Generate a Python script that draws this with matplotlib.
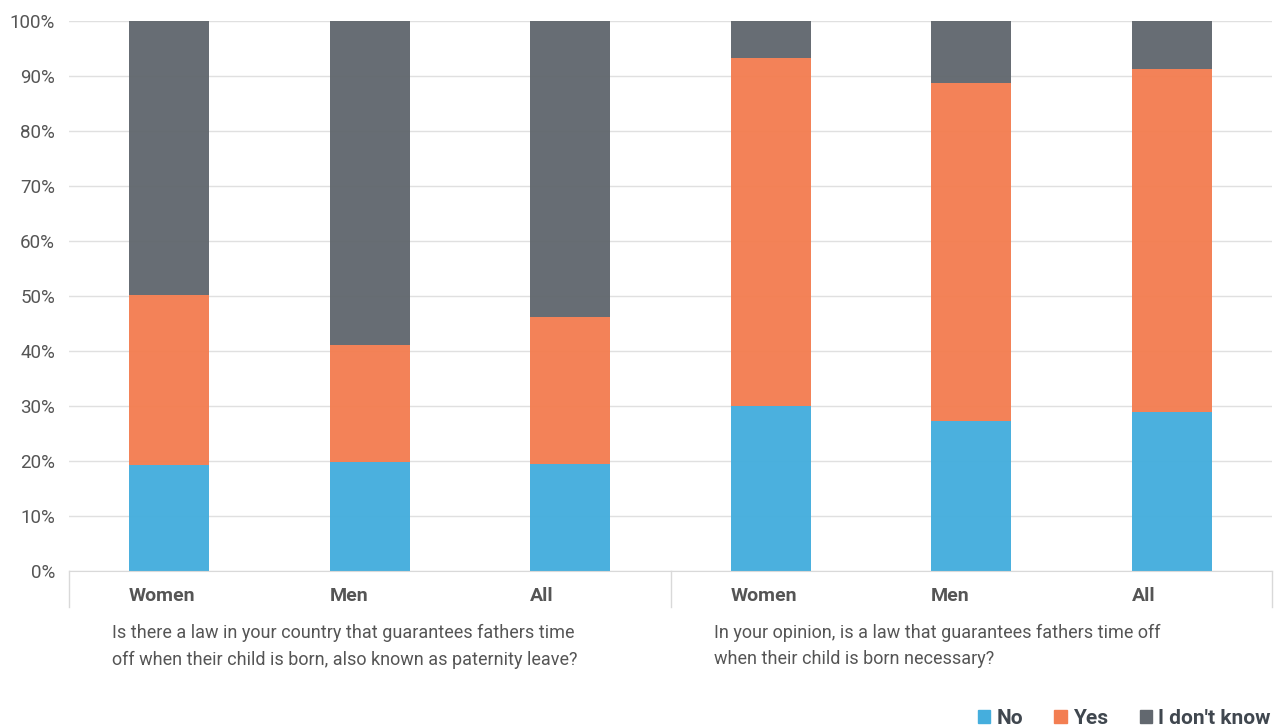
import matplotlib
matplotlib.use("Agg")
import matplotlib.pyplot as plt
from matplotlib.patches import Patch
import numpy as np

plt.rcParams['font.family'] = ['Roboto', 'DejaVu Sans']

categories = ["Women", "Men", "All", "Women", "Men", "All"]
group_labels = [
    "Is there a law in your country that guarantees fathers time\noff when their child is born, also known as paternity leave?",
    "In your opinion, is a law that guarantees fathers time off\nwhen their child is born necessary?",
]
no_vals = [19.3, 19.9, 19.4, 30.0, 27.3, 28.9]
yes_vals = [30.9, 21.2, 26.8, 63.2, 61.4, 62.3]
dk_vals = [49.8, 58.9, 53.8, 6.8, 11.3, 8.8]
series_names = ["No", "Yes", "I don't know"]
colors = ["#45aedd", "#f37e52", "#62686f"]

fig = plt.figure(figsize=(12.81, 7.26), dpi=100)
ax = fig.add_axes([69/1281, 1-571/726, (1272-69)/1281, 550/726])

x = np.arange(len(categories)) + 0.5
no = np.array(no_vals); yes = np.array(yes_vals); dk = np.array(dk_vals)
bw = 0.4
ax.bar(x, no, width=bw, color=colors[0], alpha=0.97, zorder=2)
ax.bar(x, yes, width=bw, bottom=no, color=colors[1], alpha=0.97, zorder=2)
ax.bar(x, dk, width=bw, bottom=no+yes, color=colors[2], alpha=0.97, zorder=2)

ax.set_xlim(0, 6)
ax.set_ylim(0, 100)
ax.set_yticks(np.arange(0, 101, 10))
ax.set_yticklabels([f"{v}%" for v in range(0, 101, 10)], fontsize=13.5, color="#555555")
ax.yaxis.grid(True, color="#e0e0e0", linewidth=1, zorder=0)
ax.set_axisbelow(True)
for s in ["left", "right", "top"]:
    ax.spines[s].set_visible(False)
ax.spines["bottom"].set_color("#d9d9d9")
ax.tick_params(axis="y", length=0, pad=10)
ax.set_xticks([])

trans = ax.get_xaxis_transform()
for xi, cat in zip(x, categories):
    ax.text(xi - bw/2, -25/550, cat, transform=trans, ha="left", va="center",
            fontsize=14, fontweight="bold", color="#555555")

for xv in [0, 3, 6]:
    ax.plot([xv, xv], [0, -36/550], transform=trans, color="#d9d9d9", lw=1, clip_on=False)

for gi, txt in enumerate(group_labels):
    ax.text(gi*3 + 43/200.5, -53/550, txt, transform=trans, ha="left", va="top",
            fontsize=13, color="#555555", linespacing=1.6)

handles = [Patch(color=c) for c in colors]
leg = fig.legend(handles, series_names, loc="center right", bbox_to_anchor=(0.992, 0.011),
                 ncol=3, frameon=False, fontsize=15, handlelength=0.6, handleheight=0.6,
                 handletextpad=0.3, columnspacing=1.5, borderpad=0, borderaxespad=0)
for t in leg.get_texts():
    t.set_fontweight("bold"); t.set_color("#40474f")

fig.savefig("out.png", dpi=100)
